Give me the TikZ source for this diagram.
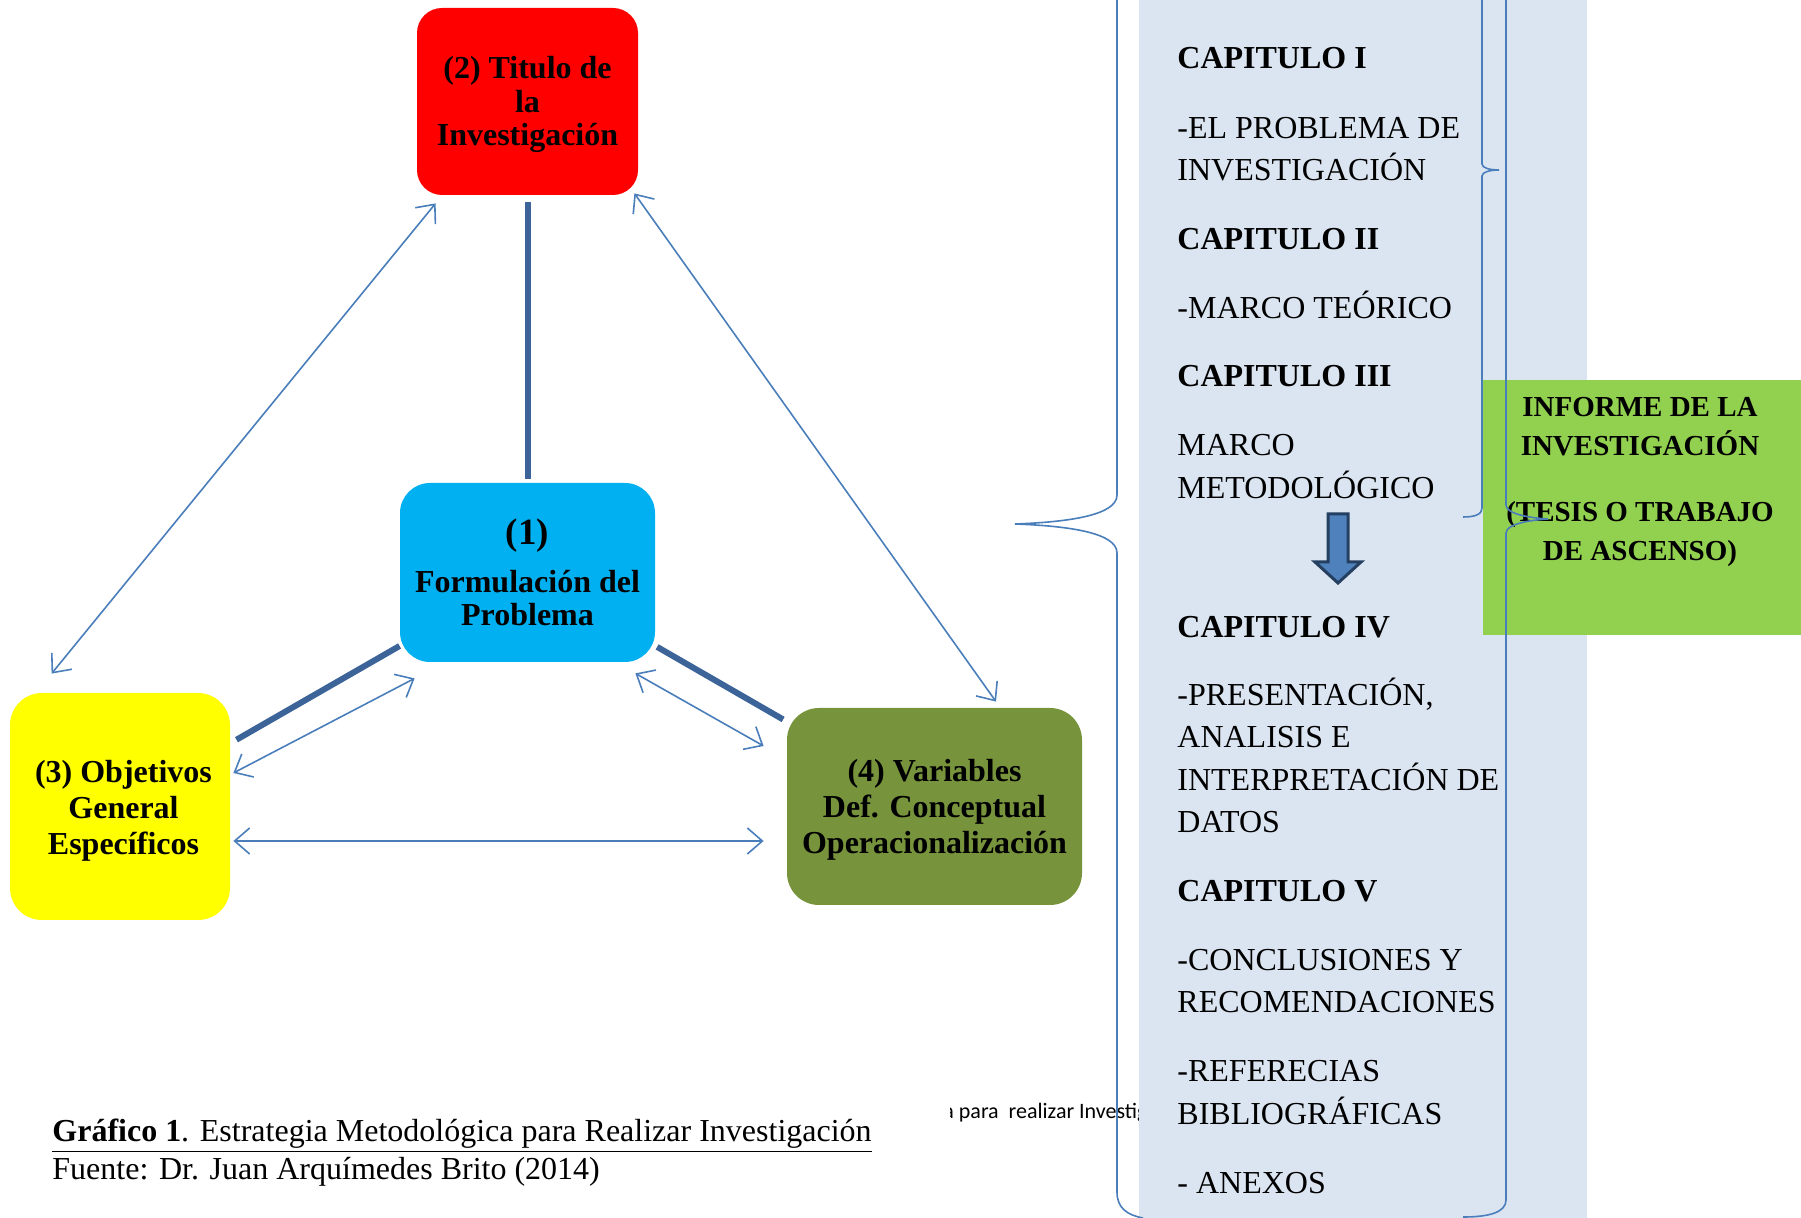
\documentclass[tikz,border=0pt]{standalone}
\usepackage{fontspec}
\setmainfont{Liberation Serif}
\newfontfamily\calibrifont{Carlito}
\usetikzlibrary{arrows.meta}

\definecolor{rojo}{HTML}{FF0000}
\definecolor{celeste}{HTML}{00B0F0}
\definecolor{amarillo}{HTML}{FFFF00}
\definecolor{oliva}{HTML}{77933C}
\definecolor{verde}{HTML}{92D050}
\definecolor{panelazul}{HTML}{DBE5F1}
\definecolor{lineaazul}{HTML}{4A7EBB}
\definecolor{lineaosc}{HTML}{3C6499}
\definecolor{flechaazul}{HTML}{4F81BD}
\definecolor{flechaborde}{HTML}{243F60}

\begin{document}
\begin{tikzpicture}[x=0.5pt,y=-0.5pt,
    caja/.style={inner sep=0pt, align=center},
    grueso/.style={draw=lineaosc, line width=3pt},
    flecha/.style={draw=lineaazul, line width=0.8pt, >={Straight Barb[length=7.5pt,width=13pt]}, <->},
    llave/.style={draw=lineaazul, line width=0.8pt},
    textopanel/.style={anchor=base west, inner sep=0pt, font=\fontsize{16}{19}\selectfont}]

  \useasboundingbox (0,0) rectangle (1801,1218);
  \clip (0,0) rectangle (1801,1218);

  % the four boxes
  \node (titulo) [caja, fill=rojo, rounded corners=12.5pt, minimum width=110.5pt, minimum height=93.5pt,
    font=\bfseries\fontsize{16}{16.75}\selectfont] at (527.5,101.5)
    {\rule{0pt}{14.5pt}(2) Titulo de\\la\\Investigación};
  \node (formula) [caja, fill=celeste, rounded corners=15pt, minimum width=127.5pt, minimum height=89.5pt,
    font=\bfseries\fontsize{16}{16.5}\selectfont] at (527.5,572.5)
    {{\fontsize{18.5}{16.5}\selectfont (1)}\\[7.5pt]Formulación del\\Problema};
  \node (objetivos) [caja, fill=amarillo, rounded corners=16pt, minimum width=110pt, minimum height=113.5pt,
    font=\bfseries\fontsize{16}{18}\selectfont] at (120,806.5)
    {\rule{0pt}{15pt}\hspace*{3.5pt}(3) Objetivos\\\hspace*{3.5pt}General\\\hspace*{3.5pt}Específicos};
  \node (variables) [caja, fill=oliva, rounded corners=16pt, minimum width=147.5pt, minimum height=98.5pt,
    font=\bfseries\fontsize{16}{18}\selectfont] at (934.5,806.5)
    {\rule{0pt}{14.5pt}(4) Variables\\Def. Conceptual\\Operacionalización};

  % thick links
  \draw [grueso, shorten <=3.5pt, shorten >=2pt] (titulo) -- (formula);
  \draw [grueso, shorten >=3.5pt] (formula) -- (objetivos);
  \draw [grueso, shorten <=1pt, shorten >=2pt] (formula) -- (variables);

  % thin double arrows
  \draw [flecha] ([xshift=9.5pt,yshift=-4pt]titulo.south west) -- ([xshift=21pt,yshift=9.5pt]objetivos.north west);
  \draw [flecha] ([xshift=-2pt,yshift=1pt]titulo.south east) -- ([xshift=30.75pt,yshift=3pt]variables.north);
  \draw [flecha] ([xshift=7.5pt,yshift=-8pt]formula.south west) -- ([xshift=1.5pt,yshift=16.75pt]objetivos.east);
  \draw [flecha] ([xshift=-10pt,yshift=-5.5pt]formula.south east) -- ([xshift=-11.5pt,yshift=30.25pt]variables.west);
  \draw [flecha] ([xshift=1.5pt,yshift=-17.25pt]objetivos.east) -- ([xshift=-11.5pt,yshift=-17.25pt]variables.west);

  % caption
  \node (grafico) [anchor=base west, inner sep=0pt, font=\fontsize{16}{19}\selectfont] at (52,1142)
    {\underline{\textbf{Gráfico 1}. Estrategia Metodológica para Realizar Investigación}};
  \node (fuente) [anchor=base west, inner sep=0pt, font=\fontsize{16}{19}\selectfont] at (52,1180)
    {Fuente: Dr. Juan Arquímedes Brito (2014)};

  \begin{scope}
    \clip (950,1080) rectangle (1200,1140);
    \node (resto) [anchor=base west, inner sep=0pt, font=\calibrifont\fontsize{11}{13}\selectfont] at (943,1119)
      {a para\ \ realizar Investig};
  \end{scope}

  % chapters panel
  \node (panel) [fill=panelazul, inner sep=0pt, minimum width=224pt, minimum height=620pt] at (1363,609) {};
  \node (informe) [fill=verde, inner sep=0pt, minimum width=163.5pt, minimum height=127.5pt] at (1646.5,507.5) {};
  \node (informetxt) [caja, font=\bfseries\fontsize{14.5}{19.5}\selectfont] at (1640,482)
    {INFORME DE LA\\INVESTIGACIÓN\\[13.5pt](TESIS O TRABAJO\\DE ASCENSO)};

  \node (cap1) [textopanel] at (1177,68.5) {\textbf{CAPITULO I}};
  \node (cap1a) [textopanel] at (1177,138.5) {-EL PROBLEMA DE};
  \node (cap1b) [textopanel] at (1177,180.5) {INVESTIGACIÓN};
  \node (cap2) [textopanel] at (1177,249.5) {\textbf{CAPITULO II}};
  \node (cap2a) [textopanel] at (1177,318.5) {-MARCO TEÓRICO};
  \node (cap3) [textopanel] at (1177,386.5) {\textbf{CAPITULO III}};
  \node (cap3a) [textopanel] at (1177,455.5) {MARCO};
  \node (cap3b) [textopanel] at (1177,498.5) {METODOLÓGICO};
  \node (cap4) [textopanel] at (1177,637.5) {\textbf{CAPITULO IV}};
  \node (cap4a) [textopanel] at (1177,705.5) {-PRESENTACIÓN,};
  \node (cap4b) [textopanel] at (1177,747.5) {ANALISIS E};
  \node (cap4c) [textopanel] at (1177,790.5) {INTERPRETACIÓN DE};
  \node (cap4d) [textopanel] at (1177,832.5) {DATOS};
  \node (cap5) [textopanel] at (1177,901.5) {\textbf{CAPITULO V}};
  \node (cap5a) [textopanel] at (1177,970.5) {-CONCLUSIONES Y};
  \node (cap5b) [textopanel] at (1177,1012.5) {RECOMENDACIONES};
  \node (refs) [textopanel] at (1177,1081.5) {-REFERECIAS};
  \node (refsb) [textopanel] at (1177,1124.5) {BIBLIOGRÁFICAS};
  \node (anexos) [textopanel] at (1177,1193.5) {- ANEXOS};

  % block arrow
  \draw [fill=flechaazul, draw=flechaborde, line width=1.5pt, line join=miter]
    (1328,514) -- (1348,514) -- (1348,562) -- (1361,562) -- (1338,583) -- (1315,562) -- (1328,562) -- cycle;

  % braces
  \draw [llave] (1117,-20) -- (1117,495) .. controls (1117,515) and (1070,522) .. (1015,524)
    .. controls (1070,526) and (1117,533) .. (1117,553) -- (1117,1192)
    .. controls (1117,1208) and (1127,1215) .. (1143,1218);
  \draw [llave] (1506,-20) -- (1506,505) .. controls (1506,514) and (1530,518) .. (1548,519)
    .. controls (1530,520) and (1506,524) .. (1506,533) -- (1506,1200)
    .. controls (1506,1212) and (1490,1217) .. (1463,1217);
  \draw [llave] (1482,-20) -- (1482,164) .. controls (1482,168) and (1490,170) .. (1499,170)
    .. controls (1490,170) and (1482,172) .. (1482,176) -- (1482,508)
    .. controls (1482,514) and (1476,517) .. (1463,517);
\end{tikzpicture}
\end{document}
